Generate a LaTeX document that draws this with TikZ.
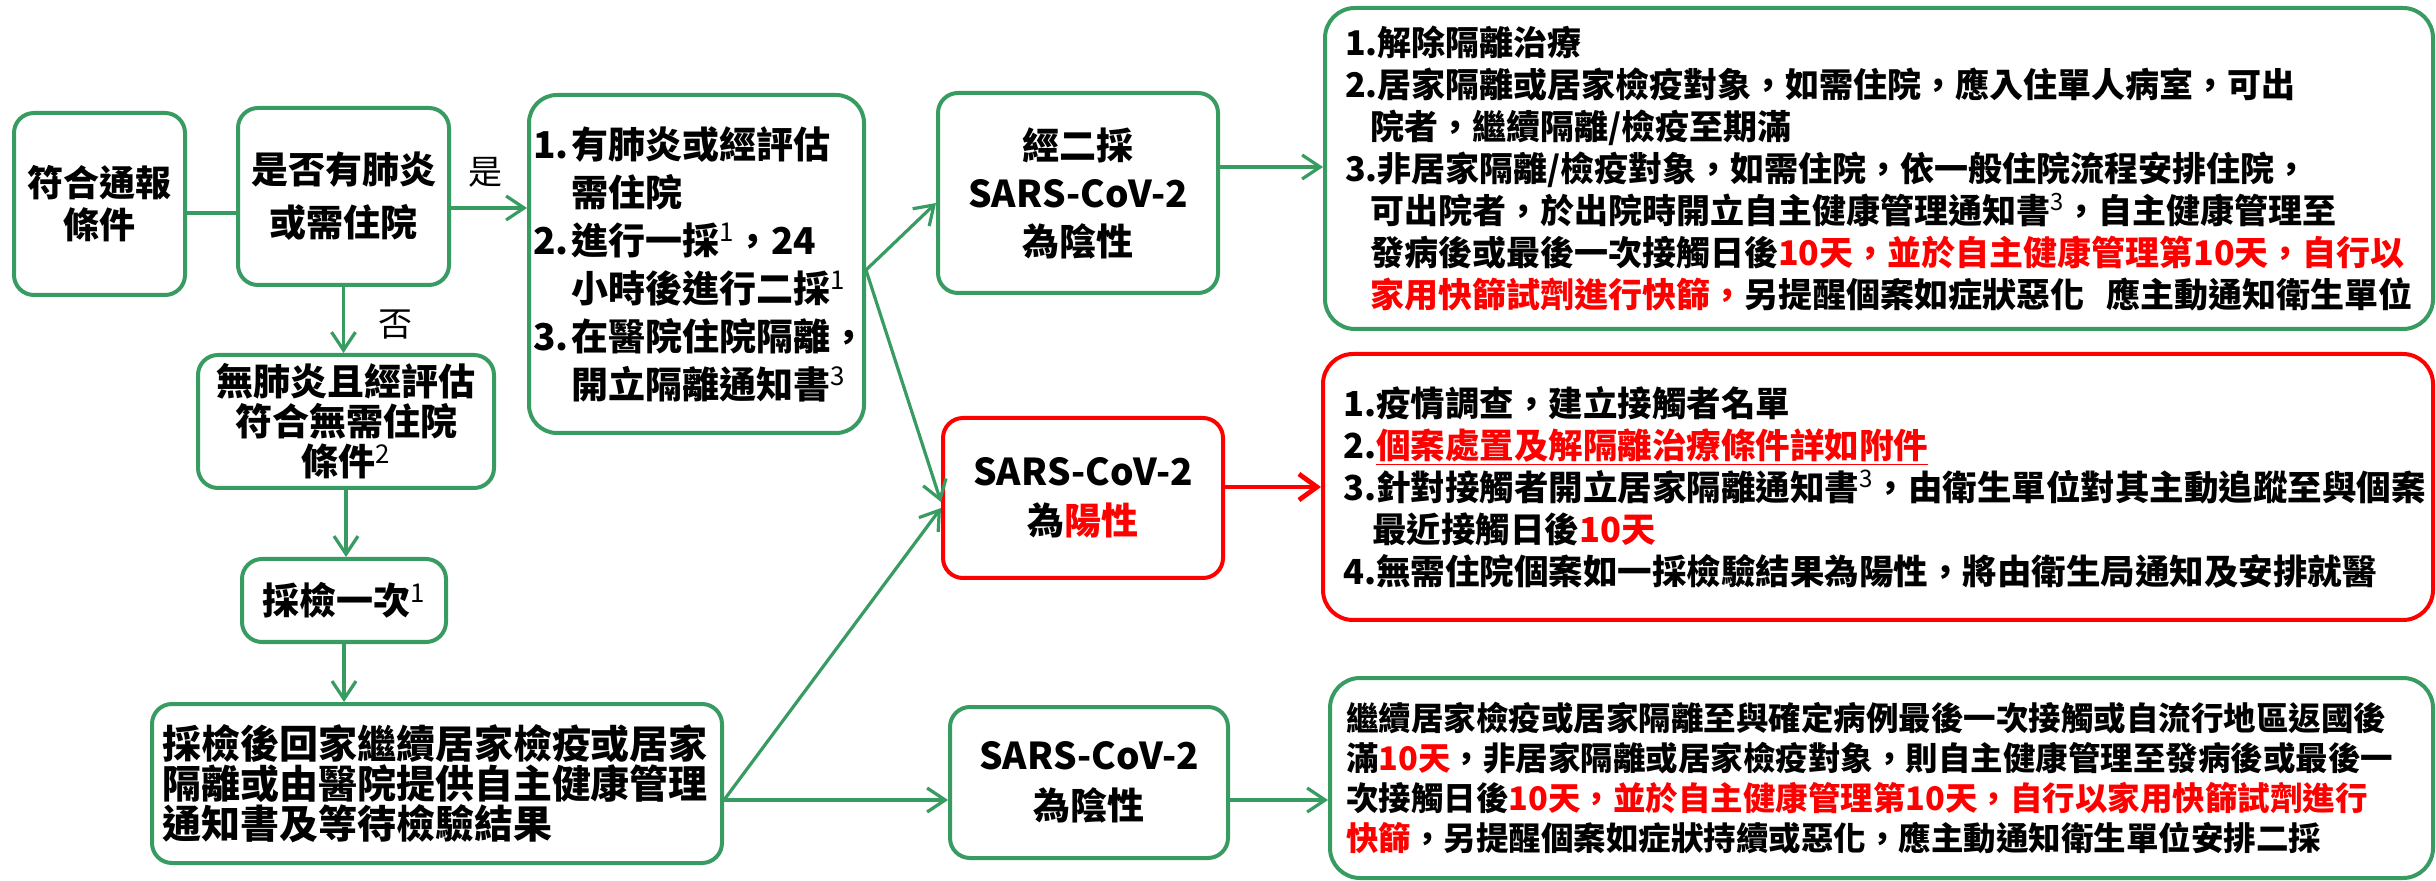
\documentclass[tikz,border=0pt]{standalone}
\usepackage{fontspec}
\setmainfont{Noto Sans CJK TC}
\usetikzlibrary{arrows.meta}
\definecolor{gr}{RGB}{56,155,98}
\definecolor{rd}{RGB}{255,0,0}
\newcommand{\rt}[1]{\textcolor{rd}{#1}}
\newcommand{\sps}[1]{\textsuperscript{\mdseries #1}}
\newcommand{\fz}[2]{\bfseries\fontsize{#1}{#2}\selectfont}
\begin{document}
\begin{tikzpicture}[x=0.5pt,y=-0.5pt,
  box/.style={draw=gr, line width=2pt, rounded corners=10pt, inner sep=0pt},
  big/.style={box, rounded corners=15pt},
  conn/.style={draw=gr, line width=1.6pt},
  arr/.style={conn, -{Straight Barb[length=9pt,width=12pt]}},
  rarr/.style={draw=rd, line width=2.4pt, -{Straight Barb[length=9pt,width=13pt]}},
  lbl/.style={font=\fontsize{17}{20}\selectfont, inner sep=0pt}
]
\useasboundingbox (0,0) rectangle (2436,881);

\node[box, minimum width=85.5pt, minimum height=91pt, align=center, font=\fz{18}{21}] (A) at (99.5,204) {符合通報\\條件};
\node[box, minimum width=105.5pt, minimum height=88.5pt, align=center, font=\fz{18.5}{26.5}] (B) at (343.5,196.5) {是否有肺炎\\或需住院};
\node[box, rounded corners=14pt, minimum width=167.5pt, minimum height=169pt, text width=163.5pt, align=left, font=\fz{18.5}{24}] (C) at (696.5,264) {%
\makebox[19pt][l]{1.}有肺炎或經評估\\
\hspace*{19pt}需住院\\
\makebox[19pt][l]{2.}進行一採\sps{1}，24\\
\hspace*{19pt}小時後進行二採\sps{1}\\
\makebox[19pt][l]{3.}在醫院住院隔離，\\
\hspace*{19pt}開立隔離通知書\sps{3}};
\node[box, minimum width=148pt, minimum height=66.5pt, align=center, font=\fz{18.5}{20}] (D) at (346,421.5) {無肺炎且經評估\\符合無需住院\\條件\sps{2}};
\node[box, minimum width=102pt, minimum height=41.5pt, align=center, font=\fz{18.5}{21}] (E) at (344,600.5) {採檢一次\sps{1}};
\node[box, minimum width=285pt, minimum height=79.5pt, text width=275pt, align=left, font=\fz{19.5}{20}] (F) at (437,783.5) {採檢後回家繼續居家檢疫或居家\\隔離或由醫院提供自主健康管理\\通知書及等待檢驗結果};
\node[box, minimum width=140pt, minimum height=100pt, align=center, font=\fz{18.5}{24}] (G) at (1078,193) {經二採\\SARS-CoV-2\\為陰性};
\node[box, draw=rd, minimum width=140pt, minimum height=80pt, align=center, font=\fz{18.5}{24.5}] (I) at (1083,498) {SARS-CoV-2\\為\rt{陽性}};
\node[box, minimum width=139pt, minimum height=75.5pt, align=center, font=\fz{18.5}{25}] (K) at (1089,782.5) {SARS-CoV-2\\為陰性};

\node[big, minimum width=554pt, minimum height=160.5pt, text width=534pt, align=left, font=\fz{17}{21}] (H) at (1879,168.5) {%
1.解除隔離治療\\
2.居家隔離或居家檢疫對象，如需住院，應入住單人病室，可出\\
\hspace*{12.5pt}院者，繼續隔離/檢疫至期滿\\
3.非居家隔離/檢疫對象，如需住院，依一般住院流程安排住院，\\
\hspace*{12.5pt}可出院者，於出院時開立自主健康管理通知書\sps{3}，自主健康管理至\\
\hspace*{12.5pt}發病後或最後一次接觸日後\rt{10天，並於自主健康管理第10天，自行以}\\
\hspace*{12.5pt}\rt{家用快篩試劑進行快篩，}另提醒個案如症狀惡化~~應主動通知衛生單位};
\node[big, draw=rd, minimum width=555pt, minimum height=133pt, text width=535pt, align=left, font=\fz{17.25}{21}] (J) at (1878,487) {%
1.疫情調查，建立接觸者名單\\
2.\rt{\underline{個案處置及解隔離治療條件詳如附件}}\\
3.針對接觸者開立居家隔離通知書\sps{3}，由衛生單位對其主動追蹤至與個案\\
\hspace*{14.5pt}最近接觸日後\rt{10天}\\
4.無需住院個案如一採檢驗結果為陽性，將由衛生局通知及安排就醫};
\node[big, minimum width=551.5pt, minimum height=100pt, text width=535.5pt, align=left, font=\fz{16.25}{20}] (L) at (1881.5,778) {%
繼續居家檢疫或居家隔離至與確定病例最後一次接觸或自流行地區返國後\\
滿\rt{10天}，非居家隔離或居家檢疫對象，則自主健康管理至發病後或最後一\\
次接觸日後\rt{10天，並於自主健康管理第10天，自行以家用快篩試劑進行}\\
\rt{快篩}，另提醒個案如症狀持續或惡化，應主動通知衛生單位安排二採};

\draw[conn] (A.east |- 0,213) -- (B.west |- 0,213);
\draw[arr] (B.east |- 0,208) -- (C.west |- 0,208);
\node[lbl] (yes) at (485,172) {是};
\draw[arr] (B.south) -- (B.south |- D.north);
\node[lbl] (no) at (395,325) {否};
\draw[arr] (D.south) -- (D.south |- E.north);
\draw[arr] (E.south) -- (E.south |- F.north);
\coordinate (cb) at (C.east |- 0,270);
\draw[arr] (cb) -- (G.west |- 0,203);
\draw[arr] (cb) -- (I.west |- 0,502);
\coordinate (fb) at (F.east |- 0,800);
\draw[arr] (fb) -- (I.west |- 0,508);
\draw[arr] (fb) -- (K.west |- 0,800);
\draw[arr] (G.east |- 0,167) -- (H.west |- 0,167);
\draw[rarr] (I.east |- 0,487) -- (J.west |- 0,487);
\draw[arr] (K.east |- 0,800) -- (L.west |- 0,800);
\end{tikzpicture}
\end{document}
